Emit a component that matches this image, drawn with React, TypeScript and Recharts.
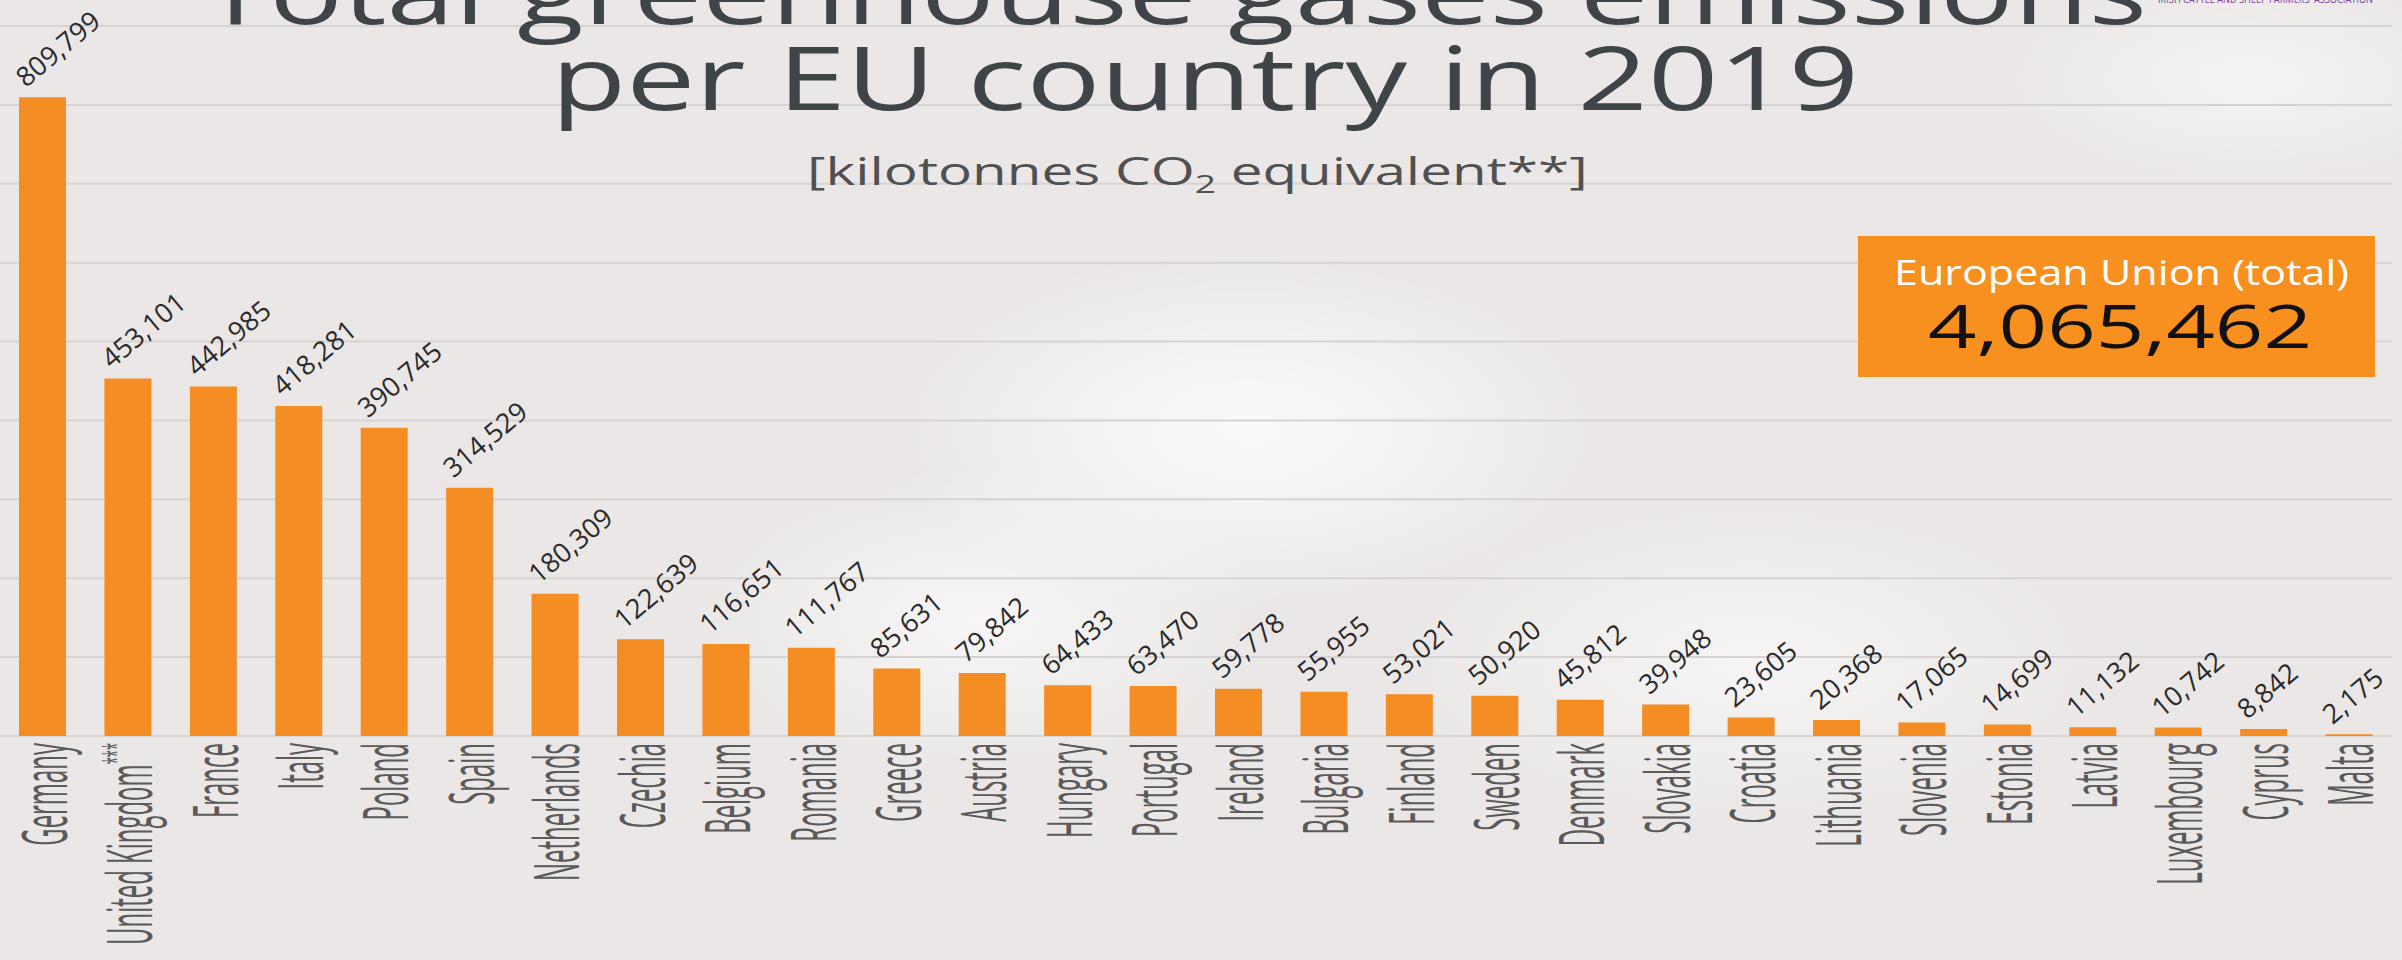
import React from 'react';
import { Bar, BarChart, CartesianGrid, LabelList, XAxis, YAxis } from 'recharts';

const countries = [
  'Germany', 'United Kingdom', 'France', 'Italy', 'Poland', 'Spain', 'Netherlands',
  'Czechia', 'Belgium', 'Romania', 'Greece', 'Austria', 'Hungary', 'Portugal',
  'Ireland', 'Bulgaria', 'Finland', 'Sweden', 'Denmark', 'Slovakia', 'Croatia',
  'Lithuania', 'Slovenia', 'Estonia', 'Latvia', 'Luxembourg', 'Cyprus', 'Malta',
];

// kilotonnes CO2 equivalent
const emissions = [
  809799, 453101, 442985, 418281, 390745, 314529, 180309,
  122639, 116651, 111767, 85631, 79842, 64433, 63470,
  59778, 55955, 53021, 50920, 45812, 39948, 23605,
  20368, 17065, 14699, 11132, 10742, 8842, 2175,
];

const footnotes: Record<string, string> = { 'United Kingdom': '***' };

const gridTicks = [100000, 200000, 300000, 400000, 500000, 600000, 700000, 800000];

const titleLines = ['Total greenhouse gases emissions', 'per EU country in 2019'];
const euLabel = 'European Union (total)';
const euTotal = 4065462;
const sourceText = "IRISH CATTLE AND SHEEP FARMERS' ASSOCIATION";

const ORANGE = '#f48e24';
const FONT = '"Open Sans", "Noto Sans", sans-serif';

const chartData = countries.map((name, i) => ({ name, value: emissions[i] }));

const fmt = (v: number) => v.toLocaleString('en-US');

function CountryTick(props: any) {
  const { x, y, payload } = props;
  const name = payload.value as string;
  const note = footnotes[name];
  return (
    <text
      transform={`translate(${x + 24}, ${y}) rotate(-90) scale(0.38, 1)`}
      textAnchor="end"
      fontSize={63}
      fontFamily={FONT}
      fill="#5a5a5a"
    >
      {name}
      {note && (
        <tspan dy={-24} fontSize={34}>
          {note}
        </tspan>
      )}
    </text>
  );
}

function ValueLabel(props: any) {
  const px = Number(props.x) + 7;
  const py = Number(props.y) - 9;
  return (
    <g transform={`translate(${px}, ${py}) rotate(-40)`}>
      <text x={0} y={0} fontSize={27} fontFamily={FONT} fill="#2a2a2a">
        {fmt(Number(props.value))}
      </text>
    </g>
  );
}

export default function App() {
  return (
    <div
      style={{
        position: 'fixed',
        left: 0,
        top: 0,
        width: 2402,
        height: 960,
        overflow: 'hidden',
        background: [
          'radial-gradient(ellipse 520px 260px at 1250px 430px, rgba(255,255,255,0.8), rgba(255,255,255,0) 70%)',
          'radial-gradient(ellipse 420px 220px at 980px 620px, rgba(255,255,255,0.6), rgba(255,255,255,0) 70%)',
          'radial-gradient(ellipse 520px 240px at 1750px 660px, rgba(255,255,255,0.55), rgba(255,255,255,0) 70%)',
          'radial-gradient(ellipse 380px 160px at 2250px 80px, rgba(255,255,255,0.5), rgba(255,255,255,0) 70%)',
          '#ebe7e7',
        ].join(', '),
      }}
    >
      <BarChart
        width={2402}
        height={960}
        data={chartData}
        margin={{ top: 26, right: 10, bottom: 0, left: 0 }}
        barSize={47}
      >
        <CartesianGrid vertical={false} stroke="#d7d3d3" strokeWidth={2} />
        <YAxis hide domain={[0, 900000]} ticks={gridTicks} />
        <XAxis
          dataKey="name"
          interval={0}
          height={224}
          axisLine={false}
          tickLine={false}
          tickSize={0}
          tickMargin={7}
          tick={<CountryTick />}
        />
        <Bar dataKey="value" fill={ORANGE} isAnimationActive={false}>
          <LabelList dataKey="value" content={<ValueLabel />} />
        </Bar>
      </BarChart>

      <svg
        width={2402}
        height={960}
        style={{ position: 'absolute', left: 0, top: 0, pointerEvents: 'none' }}
      >
        <text
          x={2158}
          y={3}
          fontSize={11}
          fontFamily={FONT}
          fill="#7b3f98"
          textLength={215}
          lengthAdjust="spacingAndGlyphs"
        >
          {sourceText}
        </text>
        <text
          x={202}
          y={24}
          fontSize={87}
          fontFamily={FONT}
          fill="#3e4448"
          textLength={1945}
          lengthAdjust="spacingAndGlyphs"
        >
          {titleLines[0]}
        </text>
        <text
          x={551}
          y={110}
          fontSize={87}
          fontFamily={FONT}
          fill="#3e4448"
          textLength={1308}
          lengthAdjust="spacingAndGlyphs"
        >
          {titleLines[1]}
        </text>
        <g transform="translate(807, 185) scale(1.49, 1)">
          <text x={0} y={0} fontSize={38} fontFamily={FONT} fill="#505050">
            [kilotonnes CO
            <tspan fontSize={25} dy={8}>2</tspan>
            <tspan dy={-8}> equivalent**]</tspan>
          </text>
        </g>

        <rect x={1858} y={236} width={517} height={141} fill="#f7901e" />
        <text
          x={1894}
          y={285}
          fontSize={35}
          fontFamily={FONT}
          fill="#ffffff"
          textLength={455}
          lengthAdjust="spacingAndGlyphs"
        >
          {euLabel}
        </text>
        <text
          x={1928}
          y={348}
          fontSize={60}
          fontFamily={FONT}
          fill="#111111"
          textLength={384}
          lengthAdjust="spacingAndGlyphs"
        >
          {fmt(euTotal)}
        </text>
      </svg>
    </div>
  );
}
